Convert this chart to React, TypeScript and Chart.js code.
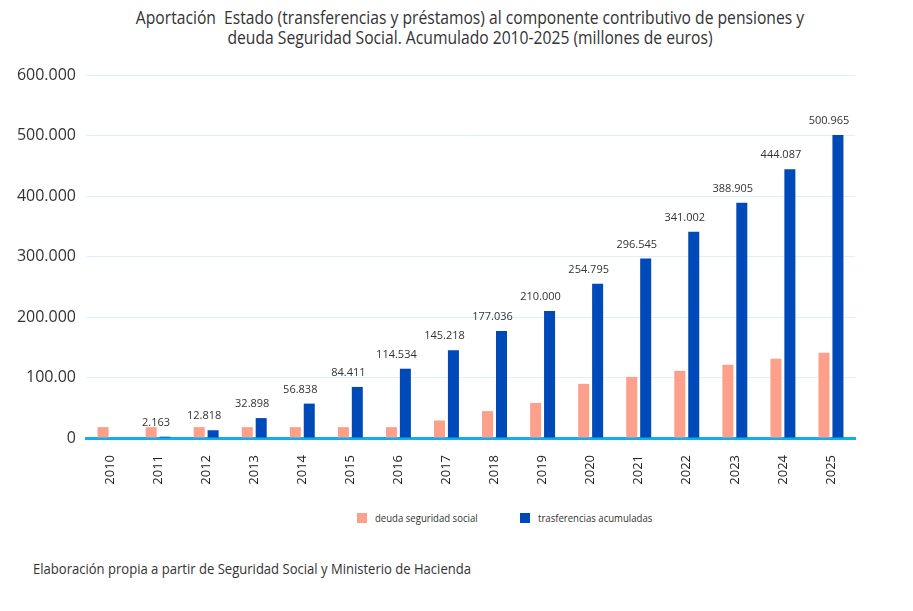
import React, { useRef, useEffect } from "react";
import Chart from "chart.js/auto";

// años del eje x
const years = [
	"2010", "2011", "2012", "2013", "2014", "2015", "2016", "2017",
	"2018", "2019", "2020", "2021", "2022", "2023", "2024", "2025",
];

// deuda seguridad social (millones de euros, estimado del gráfico)
const deudaSS = [
	18000, 18000, 18000, 18000, 18000, 18000, 18000, 29000,
	44500, 58000, 89500, 101000, 111000, 121000, 131000, 141000,
];

// trasferencias acumuladas (millones de euros)
const transferencias = [
	0, 2163, 12818, 32898, 56838, 84411, 114534, 145218,
	177036, 210000, 254795, 296545, 341002, 388905, 444087, 500965,
];

const transferLabels = [
	"", "2.163", "12.818", "32.898", "56.838", "84.411", "114.534", "145.218",
	"177.036", "210.000", "254.795", "296.545", "341.002", "388.905", "444.087", "500.965",
];

const yTickLabels = ["0", "100.00", "200.000", "300.000", "400.000", "500.000", "600.000"];

const SALMON = "#fc9f8b";
const BLUE = "#0049b8";

const barLabels = {
	id: "barLabels",
	afterDatasetsDraw(chart: any) {
		const { ctx } = chart;
		const meta = chart.getDatasetMeta(1);
		const xScale = chart.scales.x;
		ctx.save();
		ctx.font = "11px 'Open Sans'";
		ctx.fillStyle = "#333";
		ctx.textAlign = "center";
		ctx.textBaseline = "middle";
		meta.data.forEach((bar: any, i: number) => {
			const t = transferLabels[i];
			if (!t) return;
			ctx.fillText(t, xScale.getPixelForValue(i) - 2, bar.y - 14);
		});
		ctx.restore();
	},
};

function AportacionChart() {
	const chartRef = useRef<HTMLCanvasElement>(null);
	const chartInstance = useRef<Chart<"bar"> | null>(null);

	useEffect(() => {
		if (chartInstance.current) {
			chartInstance.current.destroy();
			chartInstance.current = null;
		}
		const ctx = chartRef.current?.getContext("2d");
		if (!ctx) return;

		chartInstance.current = new Chart(ctx, {
			type: "bar",
			data: {
				labels: years,
				datasets: [
					{
						label: "deuda seguridad social",
						data: deudaSS,
						backgroundColor: SALMON,
						categoryPercentage: 0.58,
						barPercentage: 0.79,
					},
					{
						label: "trasferencias acumuladas",
						data: transferencias,
						backgroundColor: BLUE,
						categoryPercentage: 0.58,
						barPercentage: 0.79,
					},
				],
			},
			options: {
				animation: false,
				responsive: false,
				layout: { padding: { top: 75, right: 58, left: 0, bottom: 0 } },
				plugins: {
					legend: { display: false },
					title: { display: false },
					tooltip: { enabled: false },
				},
				scales: {
					x: {
						grid: { display: false, drawTicks: false },
						border: { display: true, color: "#12aee8", width: 3 },
						ticks: {
							autoSkip: false,
							maxRotation: 90,
							minRotation: 90,
							padding: 17,
							color: "#222",
							font: { family: "'Open Sans'", size: 13 },
						},
						afterFit(scale: any) {
							scale.height = 62;
						},
					},
					y: {
						min: 0,
						max: 600000,
						ticks: {
							stepSize: 100000,
							padding: 10,
							color: "#333",
							font: { family: "'Open Sans'", size: 16 },
							callback: (_v: any, i: number) => yTickLabels[i],
						},
						grid: { color: "#ddf1fb", drawTicks: false },
						border: { display: false },
						afterFit(scale: any) {
							scale.width = 86;
						},
					},
				},
			},
			plugins: [barLabels],
		} as any);

		return () => {
			if (chartInstance.current) {
				chartInstance.current.destroy();
				chartInstance.current = null;
			}
		};
	}, []);

	return (
		<canvas
			ref={chartRef}
			width={913}
			height={500}
			style={{ position: "absolute", left: 0, top: 0, width: 913, height: 500 }}
		></canvas>
	);
}

export default function App() {
	// el original usa una fuente estrecha; se imita comprimiendo Open Sans
	const text = {
		position: "absolute" as const,
		color: "#333",
		fontFamily: "'Open Sans', sans-serif",
		whiteSpace: "pre" as const,
		transform: "scaleX(0.87)",
		transformOrigin: "left center",
	};
	const box = { position: "absolute" as const, top: 513, width: 10, height: 10 };
	return (
		<div style={{ position: "absolute", left: 0, top: 0, width: 913, height: 611, background: "#fff", overflow: "hidden" }}>
			<div style={{ ...text, left: 0, top: 7, width: 940, textAlign: "center", fontSize: 18, lineHeight: "20px", transformOrigin: "center center" }}>
				<div>Aportación  Estado (transferencias y préstamos) al componente contributivo de pensiones y</div>
				<div>deuda Seguridad Social. Acumulado 2010-2025 (millones de euros)</div>
			</div>
			<AportacionChart />
			<div style={{ ...box, left: 357, background: SALMON }}></div>
			<div style={{ ...text, left: 375, top: 510, fontSize: 11, lineHeight: "16px" }}>deuda seguridad social</div>
			<div style={{ ...box, left: 520, background: BLUE }}></div>
			<div style={{ ...text, left: 538, top: 510, fontSize: 11, lineHeight: "16px" }}>trasferencias acumuladas</div>
			<div style={{ ...text, left: 33, top: 559, fontSize: 15, lineHeight: "18px" }}>
				Elaboración propia a partir de Seguridad Social y Ministerio de Hacienda
			</div>
		</div>
	);
}
